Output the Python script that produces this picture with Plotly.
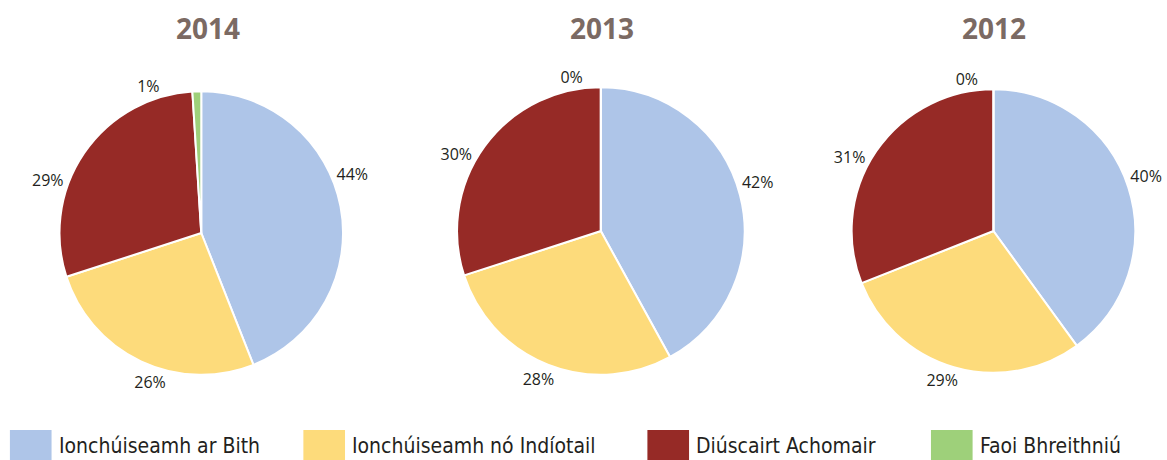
import plotly.graph_objects as go

years = ["2014", "2013", "2012"]
labels = ["Ionchúiseamh ar Bith", "Ionchúiseamh nó Indíotail", "Diúscairt Achomair", "Faoi Bhreithniú"]
values_2014 = [44, 26, 29, 1]
values_2013 = [42, 28, 30, 0]
values_2012 = [40, 29, 31, 0]
colors = ["#AEC5E8", "#FDDB7B", "#962A26", "#9ED07A"]

W, H = 1167, 460


def px_x(x):
    return x / W


def px_y(y):
    return 1 - y / H


# pie centres / radii in pixels, and the angular shift of the label layer (layout only)
geo = [(203, 233, 143), (606, 231, 145), (1002, 231, 143)]
label_shift = [-13, -5, -4]
title_x = [210, 607, 1003]

fig = go.Figure()
for yr, vals, (cx, cy, r), sh in zip(years, [values_2014, values_2013, values_2012], geo, label_shift):
    dom = dict(x=[px_x(cx - r), px_x(cx + r)], y=[px_y(cy + r), px_y(cy - r)])
    # coloured slices
    fig.add_trace(go.Pie(
        labels=labels, values=vals, sort=False, direction="clockwise", rotation=0,
        marker=dict(colors=colors, line=dict(color="white", width=2)),
        textinfo="none", showlegend=False, hoverinfo="label+value", domain=dom, name=yr,
    ))
    # percentage labels layer (transparent slices, labels placed outside)
    fig.add_trace(go.Pie(
        labels=labels, values=vals, sort=False, direction="clockwise", rotation=sh,
        marker=dict(colors=["rgba(0,0,0,0)"] * len(vals), line=dict(width=0)),
        texttemplate="%{value}%", textposition="outside",
        textfont=dict(family="Open Sans", size=16, color="#231F20"),
        showlegend=False, hoverinfo="skip", domain=dom, name=yr + " labels",
    ))

annotations = []
for yr, tx in zip(years, title_x):
    annotations.append(dict(text=f"<b>{yr}</b>", x=px_x(tx), y=px_y(28), xref="paper", yref="paper",
                            showarrow=False, font=dict(family="Open Sans", size=28, color="#7B6A63"),
                            xanchor="center", yanchor="middle"))

# legend built from the label / colour arrays
leg_x = [10, 306, 653, 939]
shapes = []
for lab, col, lx in zip(labels, colors, leg_x):
    shapes.append(dict(type="rect", xref="paper", yref="paper", x0=px_x(lx), x1=px_x(lx + 42),
                       y0=-0.05, y1=px_y(430), fillcolor=col, line=dict(width=0)))
    annotations.append(dict(text=lab, x=px_x(lx + 47), y=px_y(446), xref="paper", yref="paper",
                            showarrow=False, xanchor="left", yanchor="middle",
                            font=dict(family="DejaVu Sans Condensed", size=21, color="#231F20")))

fig.update_layout(width=W, height=H, margin=dict(l=0, r=0, t=0, b=0),
                  paper_bgcolor="white", plot_bgcolor="white",
                  annotations=annotations, shapes=shapes, showlegend=False)
fig.write_html("out.html", config={"displayModeBar": False},
               post_script="document.body.style.margin='0';document.body.style.overflow='hidden';")
